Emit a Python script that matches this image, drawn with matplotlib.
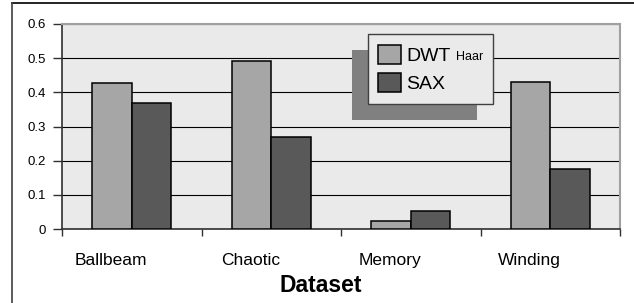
import numpy as np
import matplotlib
matplotlib.use("Agg")
import matplotlib.pyplot as plt
from matplotlib.lines import Line2D

plt.rcParams["font.family"] = ["Liberation Sans", "DejaVu Sans"]

# dati
datasets = ["Ballbeam", "Chaotic", "Memory", "Winding"]
dwt_haar = [0.428, 0.493, 0.023, 0.429]
sax = [0.370, 0.269, 0.053, 0.175]
y_ticks = [0, 0.1, 0.2, 0.3, 0.4, 0.5, 0.6]

W, H = 634, 303
fig = plt.figure(figsize=(W / 100, H / 100), dpi=100)
ax = fig.add_axes([62 / W, 1 - 229 / H, (620 - 62) / W, (229 - 24) / H])
ax.set_facecolor("#eaeaea")

x = np.arange(len(datasets))
bw = 0.283
ax.bar(x - bw / 2, dwt_haar, bw, color="#a6a6a6", edgecolor="black",
       linewidth=1.1, label="DWT", zorder=3)
ax.bar(x + bw / 2, sax, bw, color="#595959", edgecolor="black",
       linewidth=1.1, label="SAX", zorder=3)

ax.set_xlim(-0.5, len(datasets) - 0.5)
ax.set_ylim(0, 0.6)
ax.set_yticks(y_ticks)
ax.set_yticklabels([f"{v:g}" for v in y_ticks])
ax.yaxis.grid(True, color="black", linewidth=0.8, zorder=1)
ax.set_axisbelow(True)

# tick di separazione tra categorie, etichette spostate come nell'originale
ax.set_xticks(np.arange(len(datasets) + 1) - 0.5)
ax.set_xticklabels([])
ax.set_xticks(x - 0.15, minor=True)
ax.set_xticklabels(datasets, minor=True, fontsize=12.5)
ax.tick_params(axis="x", which="major", direction="out", length=5, width=1, color="#303030")
ax.tick_params(axis="x", which="minor", length=0, pad=17)
ax.tick_params(axis="y", direction="out", length=6.5, width=1, color="#303030",
               labelsize=9.5, pad=5)

for s in ["top", "right"]:
    ax.spines[s].set_color("#a0a0a0")
    ax.spines[s].set_linewidth(1.5)
for s in ["left", "bottom"]:
    ax.spines[s].set_color("#303030")
    ax.spines[s].set_linewidth(1.2)

# legenda con ombra spostata in basso a sinistra
leg = ax.legend(loc="upper left", bbox_to_anchor=(0.548, 0.61, 0.224, 0.341),
                mode="expand", borderaxespad=0,
                fontsize=14, frameon=True, fancybox=False, framealpha=1,
                facecolor="#eaeaea", edgecolor="#404040",
                handlelength=1.15, handleheight=1.15, handletextpad=0.28,
                labelspacing=0.42, borderpad=0.55,
                shadow={"ox": -11.5, "oy": -11.5, "facecolor": "#808080",
                        "edgecolor": "none", "alpha": 1})
leg.get_frame().set_linewidth(1.0)
leg.set_zorder(5)
# pedice "Haar" piu' piccolo accanto a DWT
ax.annotate("Haar", xy=(1, 0), xycoords=leg.get_texts()[0], xytext=(4, 1.5),
            textcoords="offset points", va="bottom", ha="left", fontsize=9,
            zorder=6)

fig.text(321 / W, 1 - 286 / H, "Dataset", ha="center", va="center",
         fontsize=16.5, fontweight="bold")

# cornice esterna (solo bordo sinistro e superiore visibili)
fig.add_artist(Line2D([12 / W, 1], [1 - 3 / H, 1 - 3 / H], transform=fig.transFigure,
                      color="black", linewidth=1.2))
fig.add_artist(Line2D([12 / W, 12 / W], [1 - 3 / H, 0], transform=fig.transFigure,
                      color="#404040", linewidth=1.2))

fig.savefig("out.png", dpi=100)
